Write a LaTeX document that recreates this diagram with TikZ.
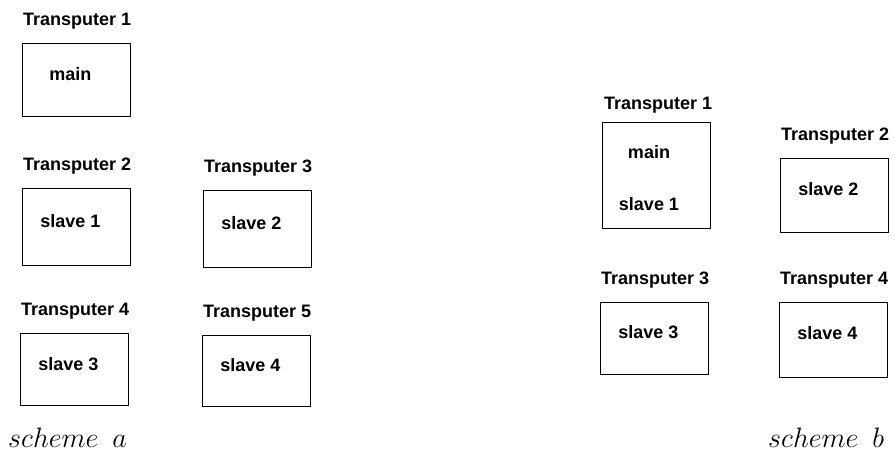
\documentclass[tikz,border=0pt]{standalone}
\usepackage{fontspec}
\setmainfont{Liberation Sans}
\usetikzlibrary{positioning}

\begin{document}
\begin{tikzpicture}[x=1pt,y=-1pt,
        tbox/.style={draw,line width=0.8pt,anchor=north west,minimum width=108pt,inner sep=0},
        ttl/.style={font=\bfseries\fontsize{18}{20}\selectfont,anchor=base west,inner sep=0},
        job/.style={font=\bfseries\fontsize{18}{20}\selectfont,anchor=base,inner sep=0},
        scm/.style={font=\fontsize{24.88}{30}\selectfont,scale=1.13,anchor=base west,inner sep=0}]
    \useasboundingbox (0,0) rectangle (895,462);
    % scheme a: one process on each transputer
    \foreach \n/\x/\y/\h/\t/\p in {a1/22/43/73/1/main,a2/22/188/77/2/slave 1,a3/203/190/77/3/slave 2,a4/20/333/72/4/slave 3,a5/202/335/71/5/slave 4} {
        \node [tbox,minimum height=\h pt] (\n) at (\x,\y) {};
        \node [ttl] (\n t) at ([xshift=1pt,yshift=17pt]\n.north west) {Transputer \t}; % title over the box
        \node [job] (\n p) at ([xshift=-6pt,yshift=-1pt]\n.center) {\p};
    }
    \node [scm] (sa) at (8,448) {$scheme\hspace{0.5em}a$};
    % scheme b: main and slave 1 share transputer 1
    \node [tbox,minimum height=106pt] (b1) at (602,122) {};
    \node [ttl] (b1t) at ([xshift=2pt,yshift=12pt]b1.north west) {Transputer 1};
    \node [job] (b1m) at (649,159) {main};
    \node [job] (b1s) at (649,211) {slave 1};
    \foreach \n/\x/\y/\h/\t/\p in {b2/780/158/74/2/slave 2,b3/600/302/72/3/slave 3,b4/779/302/75/4/slave 4} {
        \node [tbox,minimum height=\h pt] (\n) at (\x,\y) {};
        \node [ttl] (\n t) at ([xshift=1pt,yshift=17pt]\n.north west) {Transputer \t};
        \node [job] (\n p) at ([xshift=-6pt]\n.center) {\p};
    }
    \node [scm] (sb) at (768,448) {$scheme\hspace{0.5em}b$};
\end{tikzpicture}
\end{document}
